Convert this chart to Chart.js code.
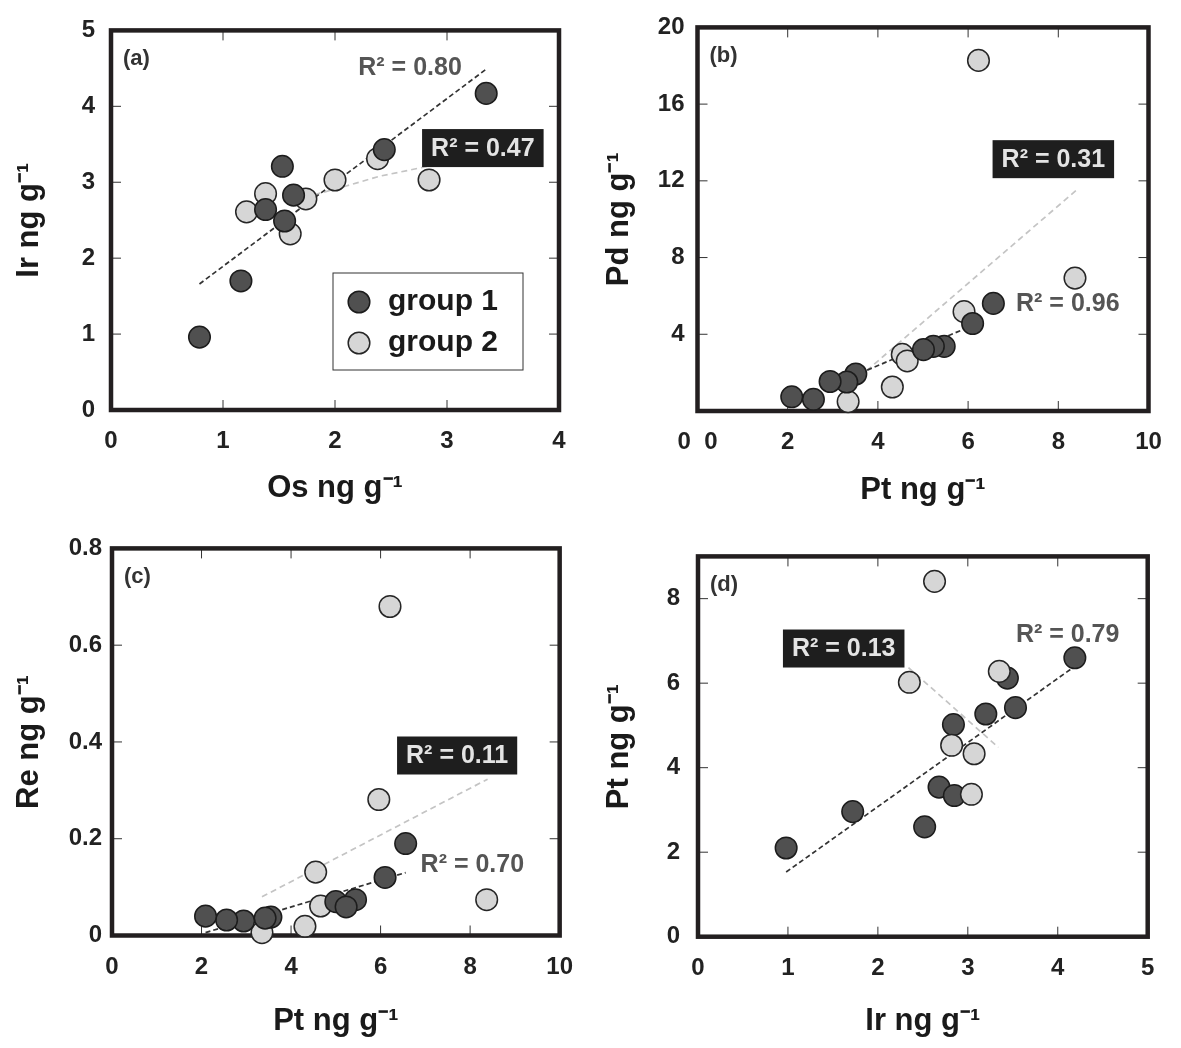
<!DOCTYPE html>
<html>
<head>
<meta charset="utf-8">
<title>PGE scatter plots</title>
<script src="https://cdn.jsdelivr.net/npm/chart.js@4.4.1/dist/chart.umd.min.js"></script>
<style>
  body { margin: 0; background: #fff; }
  #wrap { position: relative; width: 1181px; height: 1048px; }
  .panel { position: absolute; width: 590px; height: 524px; }
</style>
</head>
<body>
<div id="wrap">
  <div class="panel" style="left:0;top:0"><canvas id="chartA" width="590" height="524"></canvas></div>
  <div class="panel" style="left:590px;top:0"><canvas id="chartB" width="590" height="524"></canvas></div>
  <div class="panel" style="left:0;top:524px"><canvas id="chartC" width="590" height="524"></canvas></div>
  <div class="panel" style="left:590px;top:524px"><canvas id="chartD" width="590" height="524"></canvas></div>
</div>
<script>
// ---- data ----
// (a) Os vs Ir
const aOsG1 = [3.35, 2.44, 1.53, 1.63, 1.38, 1.55, 1.16, 0.79];
const aIrG1 = [4.17, 3.43, 3.21, 2.83, 2.64, 2.49, 1.70, 0.96];
const aOsG2 = [2.84, 2.38, 2.00, 1.38, 1.74, 1.21, 1.60];
const aIrG2 = [3.03, 3.31, 3.03, 2.85, 2.78, 2.61, 2.32];
const aFitG1X = [0.79, 3.36];
const aFitG1Y = [1.66, 4.50];
const aFitG2X = [1.73, 2.10, 2.40, 2.83];
const aFitG2Y = [2.80, 2.95, 3.08, 3.21];

// (b) Pt vs Pd
const bPtG1 = [6.56, 6.10, 5.47, 5.23, 5.01, 3.51, 3.31, 2.94, 2.57, 2.09];
const bPdG1 = [5.61, 4.56, 3.37, 3.37, 3.20, 1.93, 1.51, 1.54, 0.61, 0.74];
const bPtG2 = [6.23, 8.37, 5.91, 4.54, 4.65, 4.32, 3.34];
const bPdG2 = [18.28, 6.93, 5.18, 2.95, 2.61, 1.25, 0.49];
const bFitG1X = [3.6, 6.1];
const bFitG1Y = [1.97, 4.46];
const bFitG2X = [3.75, 8.44];
const bFitG2Y = [2.10, 11.59];

// (c) Pt vs Re
const cPtG1 = [6.56, 6.10, 5.44, 5.00, 5.23, 3.55, 3.42, 2.94, 2.56, 2.09];
const cReG1 = [0.190, 0.120, 0.074, 0.070, 0.059, 0.038, 0.036, 0.030, 0.032, 0.040];
const cPtG2 = [6.21, 5.96, 4.55, 8.37, 4.66, 4.31, 3.35];
const cReG2 = [0.680, 0.281, 0.131, 0.074, 0.061, 0.019, 0.006];
const cFitG1X = [2.09, 6.56];
const cFitG1Y = [0.006, 0.130];
const cFitG2X = [3.35, 8.39];
const cFitG2Y = [0.080, 0.323];

// (d) Ir vs Pt
const dIrG1 = [4.19, 3.44, 3.53, 3.20, 2.84, 2.68, 2.85, 2.52, 1.72, 0.98];
const dPtG1 = [6.60, 6.12, 5.42, 5.27, 5.02, 3.54, 3.34, 2.60, 2.96, 2.10];
const dIrG2 = [2.63, 2.35, 3.35, 2.82, 3.07, 3.04];
const dPtG2 = [8.41, 6.02, 6.28, 4.53, 4.33, 3.37];
const dFitG1X = [0.98, 4.17];
const dFitG1Y = [1.53, 6.37];
const dFitG2X = [2.34, 3.34];
const dFitG2Y = [6.37, 4.48];

const FONT = '"Liberation Sans", Arial, Helvetica, sans-serif';
Chart.defaults.font.family = FONT;

const pts = (xs, ys) => xs.map((x, i) => ({ x: x, y: ys[i] }));

function group(label, xs, ys, dark, order) {
  return {
    label: label,
    data: pts(xs, ys),
    pointRadius: 10.8,
    pointBackgroundColor: dark ? '#505050' : '#d6d6d6',
    pointBorderColor: dark ? '#1c1c1c' : '#262626',
    pointBorderWidth: 1.5,
    showLine: false,
    clip: false,
    order: order
  };
}

function fitLine(xs, ys, dark) {
  return {
    data: pts(xs, ys),
    showLine: true,
    pointRadius: 0,
    borderColor: dark ? '#333' : '#c4c4c4',
    borderWidth: 1.7,
    borderDash: dark ? [5, 3] : [6, 4],
    fill: false,
    order: 10
  };
}

// frame, inward ticks, panel letter, R² notes and legend
const decor = {
  id: 'decor',
  beforeDatasetsDraw(chart) {
    const { ctx, chartArea: a, scales: { x, y } } = chart;
    ctx.save();
    ctx.strokeStyle = '#333';
    ctx.lineWidth = 1;
    ctx.beginPath();
    x.ticks.forEach(t => {
      const px = x.getPixelForValue(t.value);
      if (px <= a.left + 2 || px >= a.right - 2) return;
      ctx.moveTo(px, a.bottom); ctx.lineTo(px, a.bottom - 10);
      ctx.moveTo(px, a.top); ctx.lineTo(px, a.top + 10);
    });
    y.ticks.forEach(t => {
      const py = y.getPixelForValue(t.value);
      if (py <= a.top + 2 || py >= a.bottom - 2) return;
      ctx.moveTo(a.left, py); ctx.lineTo(a.left + 10, py);
      ctx.moveTo(a.right, py); ctx.lineTo(a.right - 10, py);
    });
    ctx.stroke();
    ctx.lineWidth = 4.5;
    ctx.strokeStyle = '#231f20';
    ctx.strokeRect(a.left, a.top, a.right - a.left, a.bottom - a.top);
    ctx.restore();
  },
  afterDatasetsDraw(chart, args, opts) {
    const { ctx, chartArea: a, scales: { x, y } } = chart;
    ctx.save();
    ctx.textBaseline = 'middle';

    // panel letter
    ctx.font = 'bold 22px ' + FONT;
    ctx.fillStyle = '#333';
    ctx.textAlign = 'left';
    ctx.fillText(opts.letter, a.left + 12, a.top + 29);

    // R² annotations
    ctx.font = 'bold 25px ' + FONT;
    ctx.textAlign = 'center';
    (opts.notes || []).forEach(n => {
      const px = x.getPixelForValue(n.x);
      const py = y.getPixelForValue(n.y);
      if (n.boxed) {
        const w = ctx.measureText(n.text).width + 18;
        const h = 38;
        ctx.fillStyle = '#1e1e1e';
        ctx.fillRect(px - w / 2, py - h / 2, w, h);
        ctx.fillStyle = '#e4e4e4';
      } else {
        ctx.fillStyle = '#555';
      }
      ctx.fillText(n.text, px, py + 1);
    });

    // legend box
    if (opts.legend) {
      const bw = 190, bh = 97;
      const bx = a.right - 36 - bw, by = a.bottom - 40 - bh;
      ctx.lineWidth = 1;
      ctx.strokeStyle = '#333';
      ctx.strokeRect(bx, by, bw, bh);
      const items = chart.data.datasets.filter(d => d.label);
      items.sort((p, q) => p.label.localeCompare(q.label));
      ctx.font = 'bold 30px ' + FONT;
      ctx.textAlign = 'left';
      items.forEach((d, i) => {
        const cy = by + 29 + i * 41;
        ctx.beginPath();
        ctx.arc(bx + 26, cy, d.pointRadius, 0, Math.PI * 2);
        ctx.fillStyle = d.pointBackgroundColor;
        ctx.fill();
        ctx.lineWidth = d.pointBorderWidth;
        ctx.strokeStyle = d.pointBorderColor;
        ctx.stroke();
        ctx.fillStyle = '#1a1a1a';
        ctx.fillText(d.label, bx + 55, cy);
      });
    }
    ctx.restore();
  }
};

function makePanel(id, p) {
  const W = 590, H = 524;
  const tickFont = { size: 24, weight: 'bold' };
  const titleFont = { size: 31, weight: 'bold' };
  new Chart(document.getElementById(id), {
    type: 'scatter',
    data: { datasets: p.datasets },
    options: {
      responsive: false,
      animation: false,
      events: [],
      layout: { padding: { left: 0, top: p.area[1], right: W - p.area[2], bottom: 0 } },
      scales: {
        x: {
          type: 'linear',
          min: p.x.min, max: p.x.max,
          ticks: { stepSize: p.x.step, padding: 17, font: tickFont, color: '#222',
                   callback: p.x.label || (v => v) },
          grid: { display: false, drawTicks: false },
          border: { display: false },
          title: { display: true, text: p.x.title, font: titleFont, color: '#1a1a1a',
                   padding: { top: 0, bottom: p.x.titlePad } },
          afterFit: s => { s.height = H - p.area[3]; }
        },
        y: {
          type: 'linear',
          min: p.y.min, max: p.y.max,
          ticks: { stepSize: p.y.step, padding: p.y.pad, font: tickFont, color: '#222',
                   includeBounds: false, callback: p.y.label || (v => v) },
          grid: { display: false, drawTicks: false },
          border: { display: false },
          title: { display: true, text: p.y.title, font: titleFont, color: '#1a1a1a',
                   padding: { top: 11, bottom: 0 } },
          afterFit: s => { s.width = p.area[0]; }
        }
      },
      plugins: {
        legend: { display: false },
        tooltip: { enabled: false },
        decor: { letter: p.letter, notes: p.notes, legend: p.legend }
      }
    },
    plugins: [decor]
  });
}

makePanel('chartA', {
  area: [111, 18, 559, 410],
  letter: '(a)',
  legend: true,
  x: { min: 0, max: 4, step: 1, title: 'Os ng g⁻¹', titlePad: 17 },
  y: { min: 0, max: 5, step: 1, pad: 16, title: 'Ir ng g⁻¹' },
  datasets: [
    group('group 1', aOsG1, aIrG1, true, 1),
    group('group 2', aOsG2, aIrG2, false, 2),
    fitLine(aFitG1X, aFitG1Y, true),
    fitLine(aFitG2X, aFitG2Y, false)
  ],
  notes: [
    { text: 'R² = 0.80', x: 2.67, y: 4.52 },
    { text: 'R² = 0.47', x: 3.32, y: 3.45, boxed: true }
  ]
});

makePanel('chartB', {
  area: [107.5, 18, 558.5, 411],
  letter: '(b)',
  x: { min: 0, max: 10, step: 2, title: 'Pt ng g⁻¹', titlePad: 15,
       label: v => (v === 0 ? '0  0' : v) },
  y: { min: 0, max: 20, step: 4, pad: 13, title: 'Pd ng g⁻¹',
       label: v => (v === 0 ? '' : v) },
  datasets: [
    group('group 1', bPtG1, bPdG1, true, 1),
    group('group 2', bPtG2, bPdG2, false, 2),
    fitLine(bFitG1X, bFitG1Y, true),
    fitLine(bFitG2X, bFitG2Y, false)
  ],
  notes: [
    { text: 'R² = 0.31', x: 7.89, y: 13.13, boxed: true },
    { text: 'R² = 0.96', x: 8.21, y: 5.61 }
  ]
});

makePanel('chartC', {
  area: [112, 19, 562, 411.5],
  letter: '(c)',
  x: { min: 0, max: 10, step: 2, title: 'Pt ng g⁻¹', titlePad: 8 },
  y: { min: 0, max: 0.8, step: 0.2, pad: 10, title: 'Re ng g⁻¹' },
  datasets: [
    group('group 1', cPtG1, cReG1, true, 1),
    group('group 2', cPtG2, cReG2, false, 2),
    fitLine(cFitG1X, cFitG1Y, true),
    fitLine(cFitG2X, cFitG2Y, false)
  ],
  notes: [
    { text: 'R² = 0.11', x: 7.71, y: 0.372, boxed: true },
    { text: 'R² = 0.70', x: 8.05, y: 0.148 }
  ]
});

makePanel('chartD', {
  area: [108, 19, 557.7, 412.7],
  letter: '(d)',
  x: { min: 0, max: 5, step: 1, title: 'Ir ng g⁻¹', titlePad: 8 },
  y: { min: 0, max: 9, step: 2, pad: 18, title: 'Pt ng g⁻¹' },
  datasets: [
    group('group 1', dIrG1, dPtG1, true, 2),
    group('group 2', dIrG2, dPtG2, false, 1),
    fitLine(dFitG1X, dFitG1Y, true),
    fitLine(dFitG2X, dFitG2Y, false)
  ],
  notes: [
    { text: 'R² = 0.13', x: 1.62, y: 6.82, boxed: true },
    { text: 'R² = 0.79', x: 4.11, y: 7.15 }
  ]
});
</script>
</body>
</html>
